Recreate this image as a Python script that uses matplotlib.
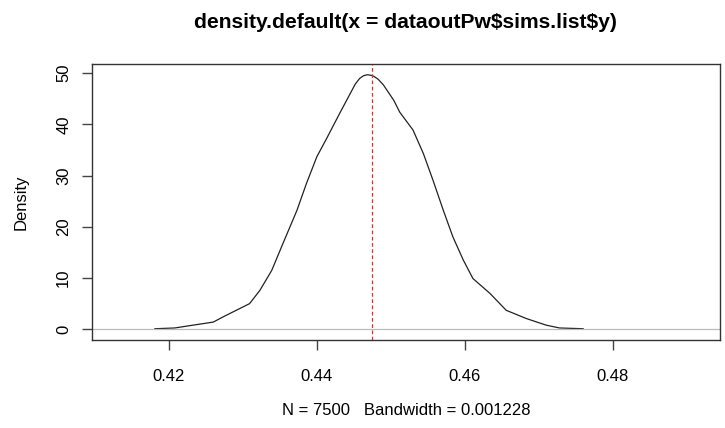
import matplotlib
matplotlib.use("Agg")
import matplotlib.pyplot as plt

x_vals = [0.4181, 0.4208, 0.4228, 0.4260, 0.4273, 0.4291, 0.4309, 0.4323, 0.4339,
          0.4354, 0.4373, 0.4386, 0.4400, 0.4413, 0.4431, 0.4445, 0.4452, 0.4458,
          0.4463, 0.4468, 0.4473, 0.4477, 0.4483, 0.4490, 0.4504, 0.4512, 0.4530,
          0.4544, 0.4557, 0.4571, 0.4584, 0.4598, 0.4611, 0.4634, 0.4656, 0.4683,
          0.4710, 0.4728, 0.4760]
y_vals = [0.1, 0.25, 0.7, 1.4, 2.4, 3.7, 5.0, 7.6, 11.5,
          16.7, 23.2, 28.5, 33.7, 37.2, 42.2, 46.0, 47.9, 49.0,
          49.5, 49.7, 49.6, 49.4, 48.8, 47.7, 44.7, 42.4, 38.9,
          34.3, 29.1, 23.2, 18.0, 13.5, 9.9, 7.0, 3.7, 2.1,
          0.8, 0.25, 0.1]
mean_line = 0.4474
x_ticks = [0.42, 0.44, 0.46, 0.48]
y_ticks = [0, 10, 20, 30, 40, 50]
title = r"density.default(x = dataoutPw\$sims.list\$y)"
subtitle = "N = 7500   Bandwidth = 0.001228"

plt.rcParams['font.family'] = ['Liberation Sans', 'DejaVu Sans']

fig = plt.figure(figsize=(7.25, 4.28), dpi=100)
ax = fig.add_axes([0.1269, 0.2056, 0.8662, 0.6449])
ax.plot(x_vals, y_vals, color='#222222', lw=0.9)
ax.axhline(0, color='#bbbbbb', lw=0.9)
ax.axvline(mean_line, color='#e03030', lw=0.9, ls=(0, (3, 2)))
ax.set_xlim(0.4096, 0.4945)
ax.set_ylim(-2.1, 51.8)
ax.set_xticks(x_ticks)
ax.set_xticklabels([f"{v:.2f}" for v in x_ticks])
ax.set_yticks(y_ticks)
ax.set_yticklabels([str(v) for v in y_ticks], rotation=90, va='center')
ax.tick_params(direction='out', length=7, width=1, color='#444444', labelsize=12, pad=8)
ax.tick_params(axis='x', pad=14)
for s in ax.spines.values():
    s.set_color('#333333')
    s.set_linewidth(1)
ax.set_ylabel("Density", fontsize=12, labelpad=20)
fig.text(0.559, 0.948, title, fontsize=15.2, fontweight='bold', ha='center', va='center')
fig.text(0.56, 0.04, subtitle, fontsize=12, ha='center', va='center')
fig.savefig("out.png", dpi=100)
